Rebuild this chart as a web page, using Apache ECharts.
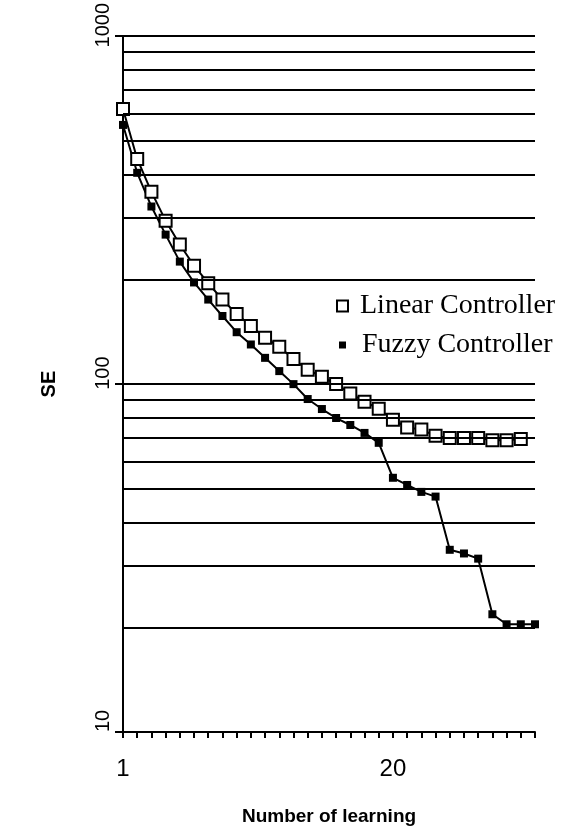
<!DOCTYPE html>
<html>
<head>
<meta charset="utf-8">
<script src="https://cdn.jsdelivr.net/npm/echarts@6/dist/echarts.min.js"></script>
<style>
html,body{margin:0;padding:0;background:#fff;}
#chart{width:580px;height:835px;}
</style>
</head>
<body>
<div id="chart"></div>
<script>
// Number of learning (x) values
var learningX = [1,2,3,4,5,6,7,8,9,10,11,12,13,14,15,16,17,18,19,20,21,22,23,24,25,26,27,28,29,30];
// SE values
var linearSE = [618,444,357,295,252,219,195,175,159,147,136,128,118,110,105,100,94,89,85,79,75,74,71,70,70,70,69,69,69.5];
var fuzzySE  = [556,405,324,269,225,196,175,157,141,130,119,109,100,90.6,84.8,79.9,76.3,72.4,67.8,53.8,51.3,49,47.5,33.4,32.6,31.5,21.8,20.4,20.4,20.4];
// horizontal reference lines
var gridValues = [20,30,40,50,60,70,80,90,100,200,300,400,500,600,700,800,900,1000];
var xTickLabels = [1, 20];
var seriesNames = ['Linear Controller', 'Fuzzy Controller'];

function pairs(xs, ys){ var out=[]; for (var i=0;i<ys.length;i++) out.push([xs[i], ys[i]]); return out; }

var chart = echarts.init(document.getElementById('chart'), null, {renderer:'canvas'});
chart.setOption({
  animation:false,
  backgroundColor:'#fff',
  grid:{left:123, right:45, top:35, bottom:103},
  legend:[
    {data:[{name:seriesNames[0], icon:'rect', itemStyle:{color:'#fff', borderColor:'#000', borderWidth:2}}],
     left:331, top:287, itemWidth:11, itemHeight:11, selectedMode:false,
     textStyle:{fontFamily:'Liberation Serif', fontSize:28, color:'#000', padding:[0,0,0,7]}},
    {data:[{name:seriesNames[1], icon:'rect', itemStyle:{color:'#000', borderWidth:0}}],
     left:334, top:326, itemWidth:7, itemHeight:7, selectedMode:false,
     textStyle:{fontFamily:'Liberation Serif', fontSize:28, color:'#000', padding:[0,0,0,11]}}
  ],
  xAxis:{
    type:'value', min:1, max:30, interval:1,
    name:'Number of learning', nameLocation:'middle', nameGap:75,
    nameTextStyle:{fontFamily:'Liberation Sans', fontWeight:'bold', fontSize:19, color:'#000'},
    axisLine:{show:true, lineStyle:{color:'#000', width:2}},
    axisTick:{show:true, inside:false, length:6, lineStyle:{color:'#000', width:2}},
    axisLabel:{margin:25, fontFamily:'Liberation Sans', fontSize:24, color:'#000',
      formatter:function(v){ return xTickLabels.indexOf(v) >= 0 ? String(v) : ''; }},
    splitLine:{show:false}
  },
  yAxis:{
    type:'log', logBase:10, min:10, max:1000,
    name:'SE', nameLocation:'middle', nameGap:64, nameRotate:90,
    nameTextStyle:{fontFamily:'Liberation Sans', fontWeight:'bold', fontSize:20, color:'#000'},
    axisLine:{show:true, lineStyle:{color:'#000', width:2}},
    axisTick:{show:true, inside:false, length:8, lineStyle:{color:'#000', width:2}},
    axisLabel:{rotate:90, margin:10, fontFamily:'Liberation Sans', fontSize:20, color:'#000',
      padding:[0,0,0,22],
      formatter:function(v){ return String(Math.round(v)); }},
    splitLine:{show:false}
  },
  series:[
    {
      name:seriesNames[1], type:'line', data:pairs(learningX, fuzzySE),
      symbol:'rect', symbolSize:8, z:3,
      itemStyle:{color:'#000'},
      lineStyle:{color:'#000', width:2},
      emphasis:{disabled:true},
      markLine:{
        silent:true, symbol:['none','none'], label:{show:false},
        lineStyle:{color:'#000', width:2, type:'solid'},
        data:gridValues.map(function(v){ return {yAxis:v}; })
      }
    },
    {
      name:seriesNames[0], type:'line', data:pairs(learningX, linearSE),
      symbol:'rect', symbolSize:12, z:4,
      itemStyle:{color:'#fff', borderColor:'#000', borderWidth:2},
      lineStyle:{color:'#000', width:2},
      emphasis:{disabled:true}
    }
  ]
});
</script>
</body>
</html>
